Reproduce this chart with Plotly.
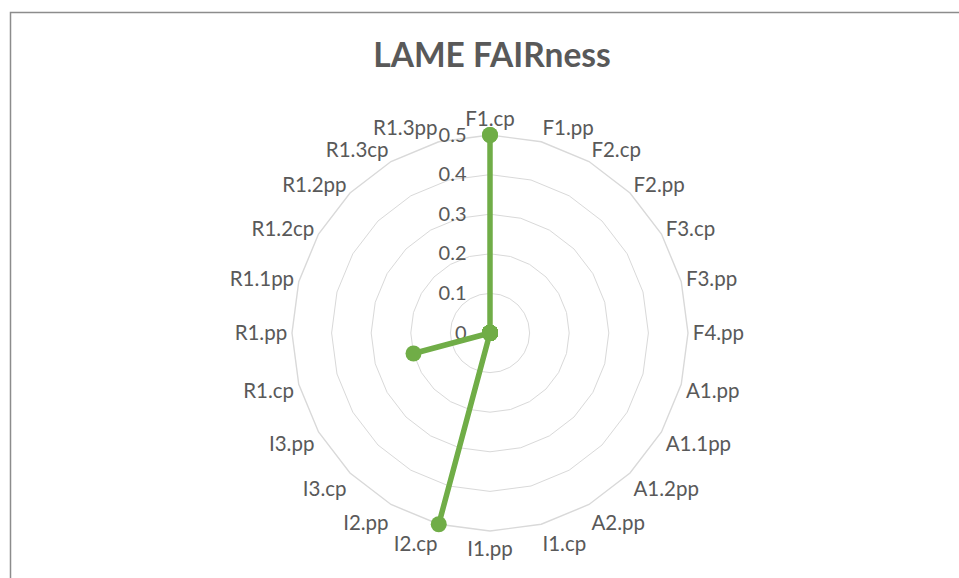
import plotly.graph_objects as go

categories = ["F1.cp", "F1.pp", "F2.cp", "F2.pp", "F3.cp", "F3.pp", "F4.pp",
              "A1.pp", "A1.1pp", "A1.2pp", "A2.pp", "I1.cp", "I1.pp", "I2.cp",
              "I2.pp", "I3.cp", "I3.pp", "R1.cp", "R1.pp", "R1.1pp", "R1.2cp",
              "R1.2pp", "R1.3cp", "R1.3pp"]
values = [0.5, 0, 0, 0, 0, 0, 0, 0, 0, 0, 0, 0, 0, 0.5,
          0, 0, 0, 0.2, 0, 0, 0, 0, 0, 0]
radial_ticks = [0, 0.1, 0.2, 0.3, 0.4, 0.5]
title_text = "LAME FAIRness"

W, H = 959, 578
cx, cy, R = 490, 333, 198

green = "#70AD47"
grey_text = "#595959"
dom = dict(x=[(cx - R) / W, (cx + R) / W], y=[(H - cy - R) / H, (H - cy + R) / H])

fig = go.Figure()
# invisible trace to set up the category axis on the grid subplot
fig.add_trace(go.Scatterpolar(
    r=values, theta=categories, mode="markers", marker=dict(opacity=0),
    showlegend=False, hoverinfo="skip", subplot="polar",
))
# data trace on an overlaid subplot (circular shape keeps the zero markers)
fig.add_trace(go.Scatterpolar(
    r=values + [values[0]],
    theta=categories + [categories[0]],
    mode="lines+markers",
    line=dict(color=green, width=5.5),
    marker=dict(color=green, size=16),
    cliponaxis=False,
    showlegend=False,
    hoverinfo="skip",
    subplot="polar2",
))

fig.update_layout(
    width=W, height=H,
    margin=dict(l=0, r=0, t=0, b=0),
    paper_bgcolor="white",
    plot_bgcolor="white",
    font=dict(family="Lato", color=grey_text, size=20),
    title=dict(text=title_text, x=492 / W, xanchor="center", y=1 - 55 / H, yanchor="middle",
               font=dict(family="Lato", size=33.5, color=grey_text, weight="bold")),
    polar=dict(
        domain=dom,
        gridshape="linear",
        bgcolor="white",
        radialaxis=dict(
            range=[0, 0.5], tickvals=radial_ticks, ticktext=[f"{v:g}" for v in radial_ticks],
            angle=90, tickangle=90, side="counterclockwise",
            showline=False, ticks="outside", ticklen=16, tickcolor="rgba(0,0,0,0)",
            gridcolor="#d9d9d9", gridwidth=1.4,
            tickfont=dict(size=20, color=grey_text),
        ),
        angularaxis=dict(
            direction="clockwise", rotation=90,
            categoryorder="array", categoryarray=categories,
            showgrid=False, showline=True, linecolor="#d9d9d9", linewidth=1.4,
            ticks="", tickfont=dict(size=20.5, color=grey_text),
        ),
    ),
    polar2=dict(
        domain=dom,
        gridshape="circular",
        bgcolor="rgba(0,0,0,0)",
        radialaxis=dict(range=[0, 0.5], visible=False, showgrid=False),
        angularaxis=dict(direction="clockwise", rotation=90,
                         categoryorder="array", categoryarray=categories,
                         visible=False, showgrid=False),
    ),
    shapes=[dict(type="rect", xref="paper", yref="paper",
                 x0=10.5 / W, x1=1.05, y0=-0.05, y1=1 - 12.5 / H,
                 line=dict(color="#8c8c8c", width=1.5), fillcolor="rgba(0,0,0,0)", layer="below")],
)

fig.write_html("out.html", config={"displayModeBar": False},
               post_script="document.body.style.margin='0';")
